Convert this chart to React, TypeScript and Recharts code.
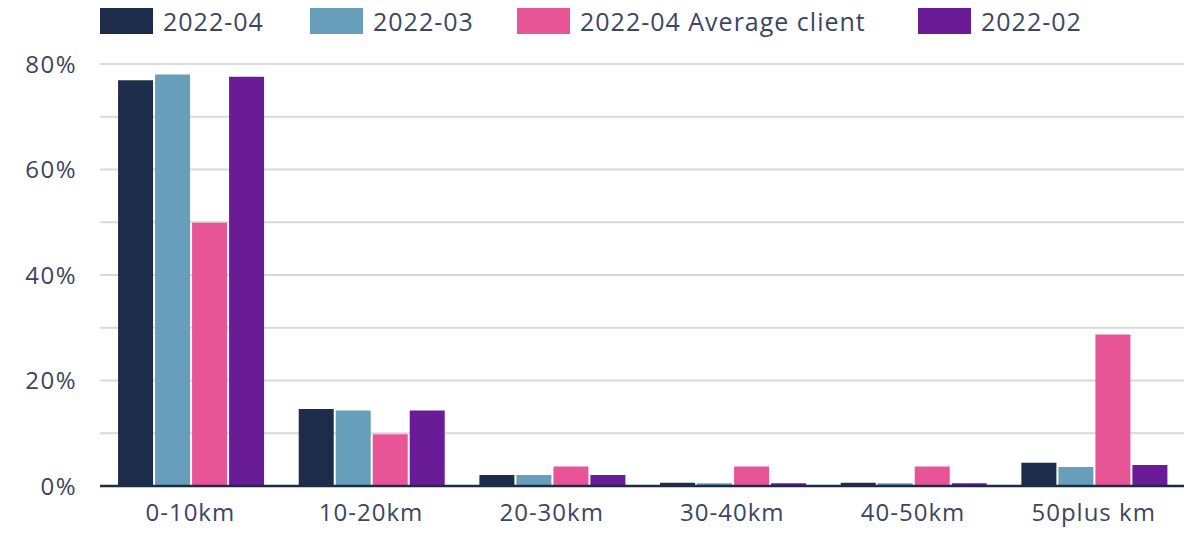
import { BarChart, Bar, XAxis, YAxis, CartesianGrid, Legend } from "recharts";

const categories = ["0-10km", "10-20km", "20-30km", "30-40km", "40-50km", "50plus km"];
const apr2022 = [76.9, 14.6, 2.1, 0.6, 0.6, 4.4];
const mar2022 = [78.0, 14.3, 2.1, 0.5, 0.5, 3.6];
const aprAvgClient = [49.9, 9.8, 3.7, 3.7, 3.7, 28.7];
const feb2022 = [77.6, 14.3, 2.1, 0.5, 0.5, 4.0];
const yTicks = [0, 10, 20, 30, 40, 50, 60, 70, 80];

const series = [
  { key: "apr", name: "2022-04", color: "#1d2c4b", w: 210 },
  { key: "mar", name: "2022-03", color: "#679fba", w: 207 },
  { key: "avg", name: "2022-04 Average client", color: "#e85597", w: 401 },
  { key: "feb", name: "2022-02", color: "#6a1b96", w: 200 },
];

const data = categories.map((c, i) => ({
  name: c,
  apr: apr2022[i],
  mar: mar2022[i],
  avg: aprAvgClient[i],
  feb: feb2022[i],
}));

const FONT = "'Open Sans', sans-serif";
const TEXT = "#3b4662";

// legend drawn by hand so the swatches line up with the original
function LegendBox() {
  return (
    <div style={{ display: "flex", height: 40, paddingLeft: 92, fontFamily: FONT, color: TEXT }}>
      {series.map((s) => (
        <div key={s.key} style={{ display: "flex", alignItems: "flex-start", width: s.w }}>
          <div style={{ width: 53, height: 26, background: s.color, flex: "none" }} />
          <span style={{ fontSize: 25, lineHeight: "26px", marginLeft: 10, letterSpacing: 1, whiteSpace: "nowrap" }}>
            {s.name}
          </span>
        </div>
      ))}
    </div>
  );
}

export default function App() {
  return (
    <BarChart
      width={1187}
      height={540}
      data={data}
      margin={{ top: 16, right: 11, left: 0, bottom: 22 }}
      barCategoryGap="10%"
      barGap={2}
    >
      <Legend verticalAlign="top" align="left" content={() => <LegendBox />} wrapperStyle={{ top: 0, left: 0 }} />
      <CartesianGrid vertical={false} stroke="#d9d9d9" strokeWidth={2} />
      <XAxis
        dataKey="name"
        tickLine={false}
        axisLine={{ stroke: "#1e2b45", strokeWidth: 2.5 }}
        tick={{ fill: TEXT, fontSize: 24, fontFamily: FONT, letterSpacing: 1 }}
        tickSize={8}
        tickMargin={10}
        height={40}
      />
      <YAxis
        domain={[0, 80]}
        ticks={yTicks}
        tickFormatter={(v: number) => (v % 20 === 0 ? `${v}%` : "")}
        axisLine={false}
        tickLine={false}
        tick={{ fill: TEXT, fontSize: 24, fontFamily: FONT, letterSpacing: 1.5 }}
        tickSize={8}
        tickMargin={15}
        width={92}
      />
      {series.map((s) => (
        <Bar key={s.key} dataKey={s.key} name={s.name} fill={s.color} isAnimationActive={false} />
      ))}
    </BarChart>
  );
}
